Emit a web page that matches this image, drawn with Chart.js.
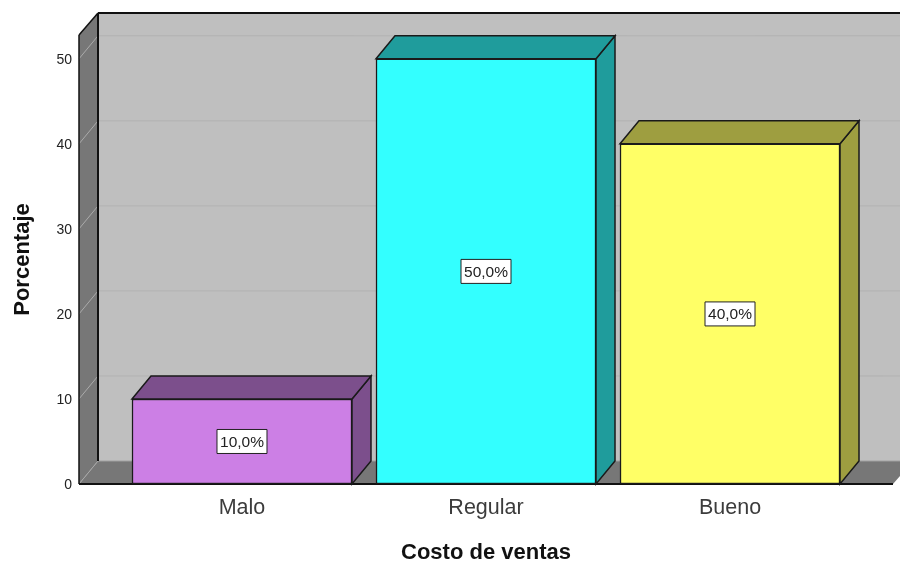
<!DOCTYPE html>
<html lang="es">
  <head>
    <meta charset="UTF-8" />
    <title>Costo de ventas</title>
    <script src="https://cdn.jsdelivr.net/npm/chart.js@4/dist/chart.umd.min.js"></script>
    <style>
      body {
        margin: 0;
        padding: 0;
        background: white;
      }
      .container {
        width: 900px;
        height: 563px;
      }
    </style>
  </head>
  <body>
    <div class="container">
      <canvas id="chart"></canvas>
    </div>
    <script>
      const categories = ['Malo', 'Regular', 'Bueno']
      const values = [10, 50, 40]
      const pointLabels = ['10,0%', '50,0%', '40,0%']
      const frontColors = ['#cc7fe5', '#33ffff', '#ffff66']
      const sideColors = ['#7c4f8c', '#1f9c9c', '#9e9e40']

      const depthX = 19
      const depthY = -23
      const fontFamily = '"Liberation Sans", Arial, sans-serif'

      const polygon = (ctx, pts, fill, stroke, width) => {
        ctx.beginPath()
        pts.forEach(([x, y], i) => (i ? ctx.lineTo(x, y) : ctx.moveTo(x, y)))
        ctx.closePath()
        if (fill) {
          ctx.fillStyle = fill
          ctx.fill()
        }
        if (stroke) {
          ctx.strokeStyle = stroke
          ctx.lineWidth = width || 1
          ctx.stroke()
        }
      }

      const line = (ctx, x1, y1, x2, y2, color, width) => {
        ctx.beginPath()
        ctx.moveTo(x1, y1)
        ctx.lineTo(x2, y2)
        ctx.strokeStyle = color
        ctx.lineWidth = width
        ctx.stroke()
      }

      // back wall, left wall, floor and the grid lines that run over them
      const box3d = {
        id: 'box3d',
        beforeDatasetsDraw(chart) {
          const { ctx, chartArea: a, scales } = chart
          const bx = a.left + depthX
          const top = a.top + depthY + 1
          const floor = a.bottom + depthY
          ctx.save()
          polygon(ctx, [[bx, top], [900, top], [900, floor], [bx, floor]], '#bfbfbf')
          polygon(ctx, [[a.left, a.top], [bx, top], [bx, floor], [a.left, a.bottom]], '#777777')
          polygon(ctx, [[a.left, a.bottom], [bx, floor], [900, floor], [900, a.bottom - 8], [a.right, a.bottom]], '#777777')

          scales.y.ticks.forEach((tick) => {
            const y = scales.y.getPixelForValue(tick.value)
            if (tick.value > 0) {
              line(ctx, a.left, y, bx, y + depthY, '#ababab', 1)
              line(ctx, bx, y + depthY, 900, y + depthY, '#b2b2b2', 1)
            }
          })
          line(ctx, a.left, a.bottom, bx, floor, '#a8a8a8', 1)
          line(ctx, bx, floor, 900, floor, '#a0a0a0', 1)

          line(ctx, bx, top, bx, floor, '#111111', 2)
          line(ctx, bx, top, 900, top, '#111111', 2)
          line(ctx, a.left, a.top, bx, top, '#111111', 1.5)
          line(ctx, a.left, a.top, a.left, a.bottom, '#111111', 1.5)
          line(ctx, a.left, a.bottom, a.right, a.bottom, '#111111', 2)
          ctx.restore()
        },
        afterDatasetsDraw(chart) {
          const { ctx } = chart
          ctx.save()
          chart.getDatasetMeta(0).data.forEach((bar, i) => {
            const left = bar.x - bar.width / 2
            const right = bar.x + bar.width / 2
            const side = [[right, bar.y], [right + depthX, bar.y + depthY], [right + depthX, bar.base + depthY], [right, bar.base]]
            const cap = [[left, bar.y], [left + depthX, bar.y + depthY], [right + depthX, bar.y + depthY], [right, bar.y]]
            polygon(ctx, side, sideColors[i], '#1a1a1a', 1.5)
            polygon(ctx, cap, sideColors[i], '#1a1a1a', 1.5)

            const cy = (bar.y + bar.base) / 2
            polygon(ctx, [[bar.x - 25, cy - 12], [bar.x + 25, cy - 12], [bar.x + 25, cy + 12], [bar.x - 25, cy + 12]], '#ffffff', '#222222', 1)
            ctx.fillStyle = '#222222'
            ctx.font = '15.5px ' + fontFamily
            ctx.textAlign = 'center'
            ctx.textBaseline = 'middle'
            ctx.fillText(pointLabels[i], bar.x, cy + 1)
          })
          ctx.restore()
        },
      }

      new Chart(document.getElementById('chart').getContext('2d'), {
        type: 'bar',
        data: {
          datasets: [
            {
              data: values.map((v, i) => ({ x: i, y: v })),
              backgroundColor: frontColors,
              borderColor: '#1a1a1a',
              borderWidth: 1.5,
              borderSkipped: false,
              barThickness: 220,
            },
          ],
        },
        options: {
          responsive: true,
          maintainAspectRatio: false,
          animation: false,
          layout: { padding: { top: 35, right: 7 } },
          plugins: {
            legend: { display: false },
            tooltip: { enabled: false },
          },
          scales: {
            x: {
              type: 'linear',
              offset: false,
              min: -0.668,
              max: 2.668,
              grid: { display: false, drawTicks: false },
              border: { display: false },
              afterFit: (scale) => {
                scale.height = 79
              },
              ticks: {
                stepSize: 1,
                includeBounds: false,
                autoSkip: false,
                maxRotation: 0,
                padding: 11,
                color: '#3c3c3c',
                font: { family: fontFamily, size: 21.5 },
                callback: (value) => categories[value],
              },
              title: {
                display: true,
                text: 'Costo de ventas',
                color: '#111111',
                font: { family: fontFamily, size: 22, weight: 'bold', lineHeight: 0.9 },
                padding: { top: 0, bottom: 0 },
              },
            },
            y: {
              min: 0,
              max: 52.8,
              grid: { display: false, drawTicks: false },
              border: { display: false },
              afterFit: (scale) => {
                scale.width = 79
              },
              ticks: {
                stepSize: 10,
                includeBounds: false,
                padding: 7,
                labelOffset: 1,
                color: '#222222',
                font: { family: fontFamily, size: 14 },
              },
              title: {
                display: true,
                text: 'Porcentaje',
                color: '#111111',
                font: { family: fontFamily, size: 22, weight: 'bold' },
                padding: { top: 10, bottom: 0 },
              },
            },
          },
        },
        plugins: [box3d],
      })
    </script>
  </body>
</html>
